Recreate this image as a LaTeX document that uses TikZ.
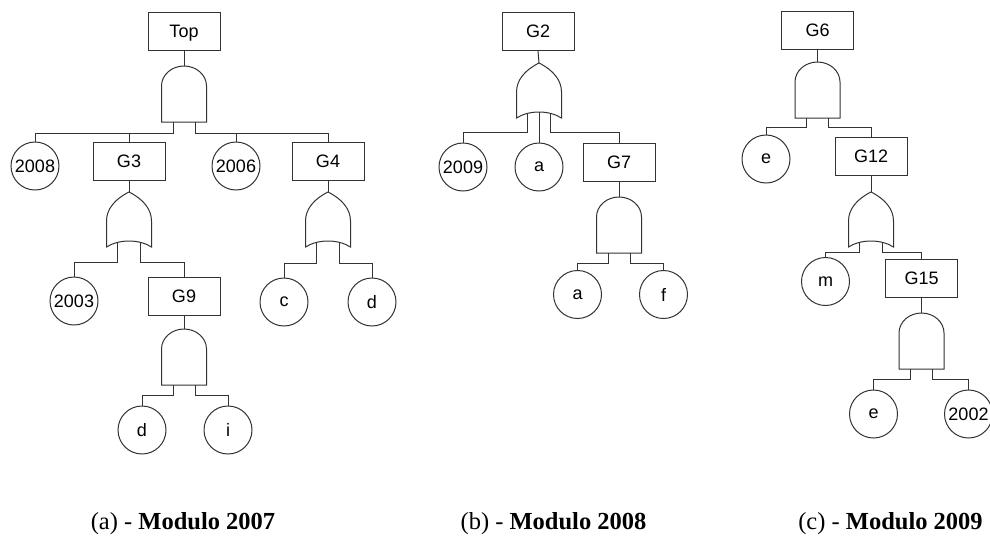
\documentclass[tikz,border=0pt]{standalone}
\usepackage{fontspec}
\newfontfamily\labfont{Liberation Sans}
\newfontfamily\capfont{Liberation Serif}
\begin{document}
\begin{tikzpicture}[x=1pt,y=-1pt,
  ln/.style={line width=1pt,draw=black!80},
  box/.style={ln,rectangle,minimum width=72pt,minimum height=38pt,inner sep=0pt,text depth=0pt,font=\labfont\fontsize{18}{20}\selectfont},
  ev/.style={ln,circle,minimum size=48pt,inner sep=0pt,text depth=0pt,font=\labfont\fontsize{18}{20}\selectfont},
  captxt/.style={anchor=base,inner sep=0pt,font=\capfont\fontsize{24.5}{28}\selectfont},
  andg/.pic={
    \draw[ln,fill=white] (-22.5,56) -- (-22.5,20) .. controls (-22.5,9) and (-12.4,0) .. (0,0)
      .. controls (12.4,0) and (22.5,9) .. (22.5,20) -- (22.5,56) -- cycle;
    \coordinate (-top) at (0,0);
    \coordinate (-l) at (-11,56);
    \coordinate (-r) at (11,56);
  },
  org/.pic={
    \draw[ln,fill=white] (0,0) .. controls (-14,7) and (-22.5,17) .. (-22.5,29) -- (-22.5,55)
      .. controls (-10,47) and (10,47) .. (22.5,55) -- (22.5,29)
      .. controls (22.5,17) and (14,7) .. (0,0) -- cycle;
    \coordinate (-top) at (0,0);
    \coordinate (-l) at (-11.5,50.4);
    \coordinate (-m) at (0,49);
    \coordinate (-r) at (11.5,50.4);
  }]
\fill[white] (0,0) rectangle (990,536);
\useasboundingbox (0,0) rectangle (990,536);

% ---------- (a) Modulo 2007 ----------
\node[box] (Top) at (184,31) {Top};
\pic (gA) at (184,66) {andg};
\node[ev]  (n2008) at (35,166) {2008};
\node[box] (G3) at (129,161) {G3};
\node[ev]  (n2006) at (236,166) {2006};
\node[box] (G4) at (328,161) {G4};
\pic (gB) at (129,192) {org};
\node[ev]  (n2003) at (74,301) {2003};
\node[box] (G9) at (184,296) {G9};
\pic (gC) at (184,329) {andg};
\node[ev]  (nd1) at (142,430) {d};
\node[ev]  (ni) at (228,430) {i};
\pic (gD) at (328,192) {org};
\node[ev]  (nc) at (284,302) {c};
\node[ev]  (nd2) at (372,302) {d};

\draw[ln] (Top.south) -- (gA-top);
\draw[ln] (gA-l) -- (gA-l |- 0,133) -| (n2008.north);
\draw[ln] (gA-l) -- (gA-l |- 0,133) -| (G3.north);
\draw[ln] (gA-r) -- (gA-r |- 0,133) -| (n2006.north);
\draw[ln] (gA-r) -- (gA-r |- 0,133) -| (G4.north);
\draw[ln] (G3.south) -- (gB-top);
\draw[ln] (gB-l) -- (gB-l |- 0,262) -| (n2003.north);
\draw[ln] (gB-r) -- (gB-r |- 0,262) -| (G9.north);
\draw[ln] (G9.south) -- (gC-top);
\draw[ln] (gC-l) -- (gC-l |- 0,395) -| (nd1.north);
\draw[ln] (gC-r) -- (gC-r |- 0,395) -| (ni.north);
\draw[ln] (G4.south) -- (gD-top);
\draw[ln] (gD-l) -- (gD-l |- 0,263) -| (nc.north);
\draw[ln] (gD-r) -- (gD-r |- 0,263) -| (nd2.north);

% ---------- (b) Modulo 2008 ----------
\node[box] (G2) at (538,31.5) {G2};
\pic (gE) at (539,63) {org};
\node[ev]  (n2009) at (463,167) {2009};
\node[ev]  (na1) at (539,167) {a};
\node[box] (G7) at (619,162) {G7};
\pic (gF) at (619,197) {andg};
\node[ev]  (na2) at (577.5,294.5) {a};
\node[ev]  (nf) at (663.5,294.5) {f};

\draw[ln] (G2.south) -- (gE-top);
\draw[ln] (gE-l) -- (gE-l |- 0,132) -| (n2009.north);
\draw[ln] (gE-m) -- (na1.north);
\draw[ln] (gE-r) -- (gE-r |- 0,132) -| (G7.north);
\draw[ln] (G7.south) -- (gF-top);
\draw[ln] (gF-l) -- (gF-l |- 0,263) -| (na2.north);
\draw[ln] (gF-r) -- (gF-r |- 0,263) -| (nf.north);

% ---------- (c) Modulo 2009 ----------
\node[box] (G6) at (817.5,30) {G6};
\pic (gG) at (817.5,62) {andg};
\node[ev]  (ne1) at (766,159) {e};
\node[box] (G12) at (871,156) {G12};
\pic (gH) at (871,192) {org};
\node[ev]  (nm) at (825.5,281.5) {m};
\node[box] (G15) at (921.5,278) {G15};
\pic (gI) at (921.5,313) {andg};
\node[ev]  (ne2) at (873.5,414) {e};
\node[ev]  (n2002) at (968.5,414) {2002};

\draw[ln] (G6.south) -- (gG-top);
\draw[ln] (gG-l) -- (gG-l |- 0,127) -| (ne1.north);
\draw[ln] (gG-r) -- (gG-r |- 0,127) -| (G12.north);
\draw[ln] (G12.south) -- (gH-top);
\draw[ln] (gH-l) -- (gH-l |- 0,252) -| (nm.north);
\draw[ln] (gH-r) -- (gH-r |- 0,252) -| (G15.north);
\draw[ln] (G15.south) -- (gI-top);
\draw[ln] (gI-l) -- (gI-l |- 0,379) -| (ne2.north);
\draw[ln] (gI-r) -- (gI-r |- 0,379) -| (n2002.north);

% ---------- captions ----------
\node[captxt] (capa) at (183,529) {(a) - \textbf{Modulo 2007}};
\node[captxt] (capb) at (553.5,529) {(b) - \textbf{Modulo 2008}};
\node[captxt] (capc) at (890.5,529) {(c) - \textbf{Modulo 2009}};
\end{tikzpicture}
\end{document}
